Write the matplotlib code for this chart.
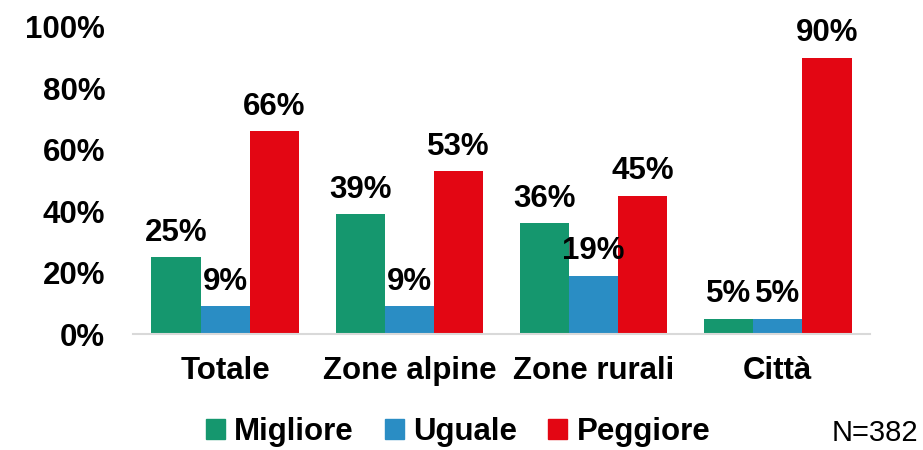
import matplotlib
matplotlib.use("Agg")
import matplotlib.pyplot as plt
import numpy as np
from matplotlib.patches import Patch

categories = ["Totale", "Zone alpine", "Zone rurali", "Città"]
series_names = ["Migliore", "Uguale", "Peggiore"]
migliore = [25, 39, 36, 5]
uguale = [9, 9, 19, 5]
peggiore = [66, 53, 45, 90]
colors = ["#15976E", "#2A8DC4", "#E30613"]
yticks = [0, 20, 40, 60, 80, 100]

plt.rcParams['font.family'] = ['Liberation Sans', 'DejaVu Sans']
FS = 22.5

fig = plt.figure(figsize=(9.23, 4.5), dpi=100)
ax = fig.add_axes([133/923, (450-334)/450, (870-133)/923, (334-27)/450])

x = np.arange(len(categories))
w = 0.8 / 3
for i, (vals, c) in enumerate(zip([migliore, uguale, peggiore], colors)):
    bars = ax.bar(x + (i - 1) * w, vals, width=w, color=c, label=series_names[i])
    for b, v in zip(bars, vals):
        ax.annotate(f"{v}%", (b.get_x() + b.get_width() / 2, v),
                    xytext=(0, 7), textcoords="offset points",
                    ha="center", va="bottom", fontsize=FS, fontweight="bold")

ax.set_xlim(-0.5, len(categories) - 0.5)
ax.set_ylim(0, 100)
ax.set_yticks(yticks)
ax.set_yticklabels([f"{t}%" for t in yticks], fontsize=FS, fontweight="bold")
ax.set_xticks(x)
ax.set_xticklabels(categories, fontsize=FS, fontweight="bold")
ax.tick_params(axis="both", length=0)
ax.tick_params(axis="y", pad=20)
ax.tick_params(axis="x", pad=16)
for s in ["top", "right", "left"]:
    ax.spines[s].set_visible(False)
ax.spines["bottom"].set_color("#D9D9D9")
ax.spines["bottom"].set_linewidth(1.5)

handles = [Patch(color=c, label=n) for c, n in zip(colors, series_names)]
fig.legend(handles=handles, loc="center", bbox_to_anchor=(458/923, 1 - 432/450),
           ncol=3, frameon=False, prop={"size": FS, "weight": "bold"},
           handlelength=0.6, handleheight=0.6, handletextpad=0.3, columnspacing=1.0)

fig.text(918/923, 3/450, "N=382", fontsize=21, ha="right", va="bottom")

fig.savefig("out.png", dpi=100)
